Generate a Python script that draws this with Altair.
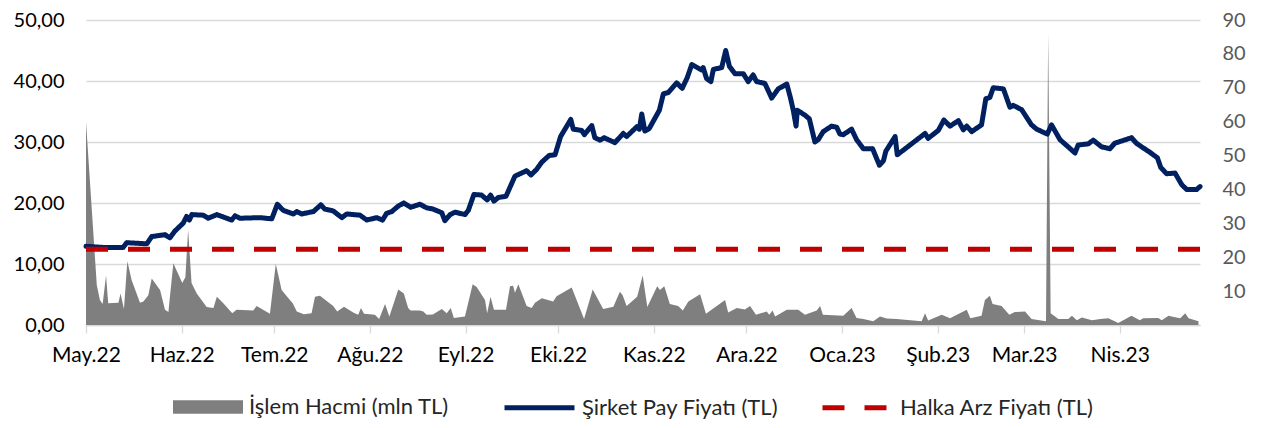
import altair as alt
import pandas as pd

# ---------------- data ----------------
baslangic = "2022-05-01"          # gün sayımının başladığı tarih
bitis = "2023-04-27"

aylar = ["Oca", "Şub", "Mar", "Nis", "May", "Haz", "Tem", "Ağu", "Eyl", "Eki", "Kas", "Ara"]
ay_baslari = ["2022-05-01", "2022-06-01", "2022-07-01", "2022-08-01", "2022-09-01", "2022-10-01",
              "2022-11-01", "2022-12-01", "2023-01-01", "2023-02-01", "2023-03-01", "2023-04-01"]

hacim_adi = "İşlem Hacmi (mln TL)"
fiyat_adi = "Şirket Pay Fiyatı (TL)"
arz_adi = "Halka Arz Fiyatı (TL)"

halka_arz_fiyati = 12.4

# Şirket pay fiyatı: gün (başlangıçtan itibaren) ve fiyat
fiyat_gun = [0.0, 6.2, 12.0, 13.2, 19.7, 21.3, 25.6, 27.2, 28.8, 31.5,
             32.6, 33.5, 34.3, 38.0, 39.6, 42.4, 47.2, 48.3, 49.9, 56.4,
             60.2, 62.0, 63.9, 67.2, 68.3, 69.9, 73.7, 76.1, 77.4, 80.1,
             82.9, 84.5, 88.8, 91.0, 94.2, 96.1, 97.4, 99.1, 101.2, 103.0,
             105.2, 108.2, 110.4, 112.5, 115.3, 116.3, 118.0, 119.6, 122.8, 123.9,
             125.7, 128.2, 130.0, 131.1, 132.2, 133.6, 136.1, 139.0, 142.8, 144.2,
             146.0, 147.7, 150.1, 152.0, 153.8, 157.1, 157.9, 160.6, 161.5, 163.9,
             164.9, 166.6, 167.9, 171.4, 174.1, 175.2, 178.5, 179.3, 180.1, 181.1,
             182.5, 185.8, 187.1, 188.7, 191.4, 193.2, 194.8, 196.3, 199.5, 200.0,
             201.1, 202.5, 203.3, 206.0, 207.3, 208.5, 210.3, 213.0, 214.6, 216.2,
             217.3, 220.0, 222.2, 224.3, 227.1, 228.3, 229.2, 230.1, 230.5, 233.0,
             234.4, 236.2, 237.3, 238.9, 241.6, 243.3, 244.3, 245.4, 248.1, 249.7,
             251.9, 254.9, 257.1, 258.4, 259.2, 262.2, 262.9, 271.9, 272.9, 276.2,
             278.0, 280.0, 282.7, 284.3, 285.4, 287.0, 290.2, 291.6, 292.9, 294.0,
             297.3, 299.4, 300.5, 303.2, 306.4, 308.1, 311.5, 312.9, 315.6, 320.5,
             321.5, 324.8, 326.4, 329.1, 331.8, 333.4, 338.8, 340.4, 341.8, 344.8,
             347.2, 348.3, 350.2, 352.9, 355.1, 356.7, 359.9, 361.0]
fiyat_deger = [12.9, 12.7, 12.7, 13.5, 13.3, 14.5, 14.8, 14.3, 15.4, 16.7,
               17.8, 17.2, 18.1, 18.0, 17.5, 18.1, 17.2, 17.9, 17.5, 17.6,
               17.4, 19.8, 18.8, 18.2, 18.6, 18.2, 18.6, 19.7, 19.0, 18.7,
               17.6, 18.2, 18.0, 17.2, 17.6, 17.2, 18.3, 18.6, 19.5, 20.0,
               19.3, 19.8, 19.2, 19.0, 18.4, 17.1, 18.1, 18.5, 18.1, 18.8,
               21.4, 21.3, 20.5, 21.3, 20.3, 20.9, 21.1, 24.4, 25.3, 24.6,
               25.5, 26.7, 27.8, 27.9, 30.9, 33.7, 32.1, 31.9, 31.2, 32.7,
               30.7, 30.3, 30.7, 29.9, 31.4, 30.9, 32.5, 32.1, 34.6, 31.8,
               32.2, 35.2, 37.9, 38.1, 39.7, 38.8, 40.5, 42.7, 41.8, 42.2,
               40.4, 39.9, 41.9, 42.2, 45.0, 42.4, 41.2, 41.2, 39.9, 41.0,
               39.9, 39.6, 37.2, 38.7, 39.5, 37.2, 35.2, 32.6, 35.2, 34.4,
               33.8, 30.0, 30.4, 31.7, 32.6, 32.4, 31.3, 31.2, 32.1, 30.4,
               28.9, 28.9, 26.2, 26.9, 28.5, 30.9, 27.9, 31.4, 30.6, 31.9,
               33.6, 32.6, 33.5, 32.0, 32.6, 31.7, 32.8, 37.1, 37.3, 38.9,
               38.7, 35.7, 36.0, 35.3, 32.8, 32.1, 31.3, 32.8, 30.4, 28.2,
               29.5, 29.7, 30.3, 29.2, 28.9, 29.8, 30.7, 29.8, 29.3, 28.3,
               27.4, 25.8, 24.8, 24.9, 23.0, 22.2, 22.2, 22.7]

# İşlem hacmi (mln TL): gün ve hacim
hacim_gun = [0.0, 3.5, 4.5, 5.4, 6.5, 7.2, 10.5, 11.2, 12.3, 13.4,
             14.8, 17.5, 18.6, 20.2, 21.3, 24.0, 25.6, 26.7, 28.3, 31.2,
             32.2, 33.1, 34.2, 35.9, 39.1, 41.3, 42.4, 44.5, 47.4, 48.8,
             54.2, 55.3, 59.6, 61.5, 63.4, 65.6, 67.0, 68.3, 70.6, 73.1,
             74.2, 75.8, 80.1, 81.4, 83.6, 86.6, 88.2, 89.1, 90.1, 93.6,
             95.0, 96.9, 98.3, 101.2, 103.0, 104.4, 105.2, 108.2, 109.3, 110.4,
             112.4, 115.3, 116.9, 118.2, 119.2, 122.8, 125.3, 126.6, 129.3, 130.0,
             131.1, 132.2, 136.1, 137.4, 138.4, 139.0, 140.1, 142.8, 144.4, 145.5,
             147.7, 151.4, 152.5, 157.4, 161.4, 164.2, 167.6, 170.9, 173.0, 173.9,
             175.2, 178.6, 180.4, 181.9, 185.1, 186.0, 187.4, 189.2, 191.9, 193.4,
             195.2, 199.0, 200.9, 207.1, 208.1, 210.9, 213.5, 215.2, 217.1, 220.6,
             221.4, 222.5, 223.3, 227.1, 230.8, 233.0, 236.8, 237.9, 238.8, 245.4,
             248.1, 249.7, 251.9, 255.1, 257.3, 259.5, 262.7, 270.8, 271.9, 272.9,
             277.3, 280.0, 285.4, 286.6, 290.2, 291.3, 292.9, 293.8, 296.7, 299.2,
             301.0, 304.3, 306.4, 311.1, 311.8, 312.6, 315.1, 318.3, 319.5, 321.1,
             322.7, 326.0, 328.7, 331.3, 334.5, 338.8, 341.5, 342.6, 347.5, 348.6,
             350.8, 352.9, 354.6, 356.2, 357.3, 360.5]
hacim_deger = [60.0, 11.7, 7.4, 6.2, 14.6, 6.4, 6.6, 9.3, 4.7, 18.8,
               13.2, 6.6, 6.9, 8.8, 13.7, 10.3, 4.5, 3.8, 18.2, 12.4,
               14.1, 28.1, 12.4, 9.3, 5.3, 5.0, 8.3, 6.4, 3.5, 4.5,
               4.3, 5.6, 3.3, 18.0, 10.3, 7.9, 6.4, 4.0, 3.2, 3.5,
               8.3, 8.6, 5.6, 4.0, 5.4, 3.7, 3.0, 5.0, 3.3, 3.0,
               1.8, 6.2, 2.5, 10.5, 9.3, 5.0, 4.3, 4.3, 4.0, 3.0,
               3.1, 4.7, 3.5, 5.0, 2.1, 2.5, 12.0, 11.2, 7.4, 3.5,
               8.3, 4.5, 4.5, 11.4, 11.6, 9.5, 12.0, 5.6, 5.0, 6.6,
               7.9, 6.9, 8.5, 11.1, 1.8, 10.5, 4.7, 5.4, 9.8, 8.8,
               5.6, 8.3, 14.6, 5.3, 11.4, 10.3, 11.4, 6.2, 5.6, 4.3,
               6.9, 9.1, 3.3, 7.4, 3.7, 5.0, 4.6, 5.6, 3.0, 4.0,
               3.0, 4.3, 2.5, 4.5, 4.5, 3.0, 4.3, 5.6, 3.0, 2.7,
               5.0, 2.1, 1.8, 1.1, 2.5, 1.9, 1.8, 1.1, 3.5, 1.3,
               3.0, 2.0, 4.5, 2.0, 2.7, 7.4, 8.6, 6.2, 5.6, 3.0,
               3.8, 4.0, 1.8, 1.1, 86.0, 3.5, 1.8, 1.8, 2.7, 1.4,
               2.2, 1.4, 1.8, 2.0, 0.6, 2.7, 1.4, 2.0, 2.1, 1.4,
               2.7, 2.3, 2.0, 3.5, 2.0, 1.1]

# ---------------- tables ----------------
t0 = pd.Timestamp(baslangic)


def tarihler(gunler):
    return [(t0 + pd.to_timedelta(g, unit="D")).strftime("%Y-%m-%dT%H:%M:%S") for g in gunler]


df_fiyat = pd.DataFrame({"tarih": tarihler(fiyat_gun), "fiyat": fiyat_deger, "seri": fiyat_adi})
df_hacim = pd.DataFrame({"tarih": tarihler(hacim_gun), "hacim": hacim_deger, "seri": hacim_adi})
df_arz = pd.DataFrame({"fiyat": [halka_arz_fiyati], "seri": [arz_adi]})


def dt(s):
    y, m, d = (int(p) for p in s.split("-"))
    return alt.DateTime(year=y, month=m, date=d)


FONT = "Lato"
ay_dizisi = "[" + ",".join("'" + a + "'" for a in aylar) + "]"

x_enc = alt.X(
    "tarih:T",
    title=None,
    scale=alt.Scale(domain=[dt(baslangic), dt(bitis)]),
    axis=alt.Axis(
        values=[dt(s) for s in ay_baslari],
        labelExpr=ay_dizisi + "[month(datum.value)] + '.' + timeFormat(datum.value, '%y')",
        grid=False,
        domainColor="#d9d9d9",
        domainWidth=1.3,
        tickColor="#d9d9d9",
        tickWidth=1.3,
        tickSize=8,
        labelFlush=False,
        labelOverlap=False,
        labelFont=FONT,
        labelFontSize=21,
        labelColor="#000000",
        labelPadding=11,
        title=None,
    ),
)

y_fiyat = alt.Y(
    "fiyat:Q",
    title=None,
    scale=alt.Scale(domain=[0, 50], nice=False),
    axis=alt.Axis(
        orient="left",
        values=[0, 10, 20, 30, 40, 50],
        labelExpr="replace(format(datum.value, '.2f'), '.', ',')",
        grid=True,
        gridColor="#d9d9d9",
        gridWidth=1.3,
        domain=False,
        ticks=False,
        labelFont=FONT,
        labelFontSize=20,
        labelColor="#000000",
        labelPadding=22,
        title=None,
    ),
)

legend_fill = alt.Legend(
    title=None, orient="none", legendX=87, legendY=352,
    symbolType="M-1,-0.19L1,-0.19L1,0.19L-1,0.19Z", symbolSize=4900, symbolStrokeWidth=0,
    labelFont=FONT, labelFontSize=22, labelColor="#262626", labelOffset=6, labelLimit=400,
)
legend_line = alt.Legend(
    title=None, orient="none", legendX=416, legendY=350, direction="horizontal",
    symbolType="stroke", symbolSize=4900, symbolStrokeWidth=5,
    labelFont=FONT, labelFontSize=22, labelColor="#262626", labelOffset=5, columnPadding=33,
    labelLimit=400,
)

seri_stroke = alt.Stroke("seri:N", scale=alt.Scale(domain=[fiyat_adi, arz_adi], range=["#002060", "#c00000"]),
                         legend=legend_line)
seri_dash = alt.StrokeDash("seri:N", scale=alt.Scale(domain=[fiyat_adi, arz_adi], range=[[1, 0], [22, 20]]),
                           legend=legend_line)

alan = alt.Chart(df_hacim).mark_area(interpolate="linear").encode(
    x=x_enc,
    y=alt.Y(
        "hacim:Q",
        title=None,
        scale=alt.Scale(domain=[0, 90], nice=False),
        axis=alt.Axis(
            orient="right",
            values=[10, 20, 30, 40, 50, 60, 70, 80, 90],
            grid=False,
            domain=False,
            ticks=False,
            labelFont=FONT,
            labelFontSize=20,
            labelColor="#595959",
            labelPadding=22,
            title=None,
        ),
    ),
    fill=alt.Fill("seri:N", scale=alt.Scale(domain=[hacim_adi], range=["#7f7f7f"]), legend=legend_fill),
)

cizgi = alt.Chart(df_fiyat).mark_line(strokeWidth=5, strokeJoin="round", strokeCap="round").encode(
    x=x_enc, y=y_fiyat, stroke=seri_stroke, strokeDash=seri_dash,
)

kesik = alt.Chart(df_arz).mark_rule(strokeWidth=5).encode(
    y=y_fiyat, stroke=seri_stroke, strokeDash=seri_dash,
)

chart = (
    alt.layer(alan, alt.layer(cizgi, kesik))
    .resolve_scale(y="independent")
    .properties(
        width=1114,
        height=305,
        autosize=alt.AutoSizeParams(type="none"),
        padding={"left": 78, "top": 12, "right": 59, "bottom": 94},
        background="#ffffff",
    )
    .configure_view(stroke=None)
)

chart.save("out.html", embed_options={"renderer": "svg", "actions": False})
